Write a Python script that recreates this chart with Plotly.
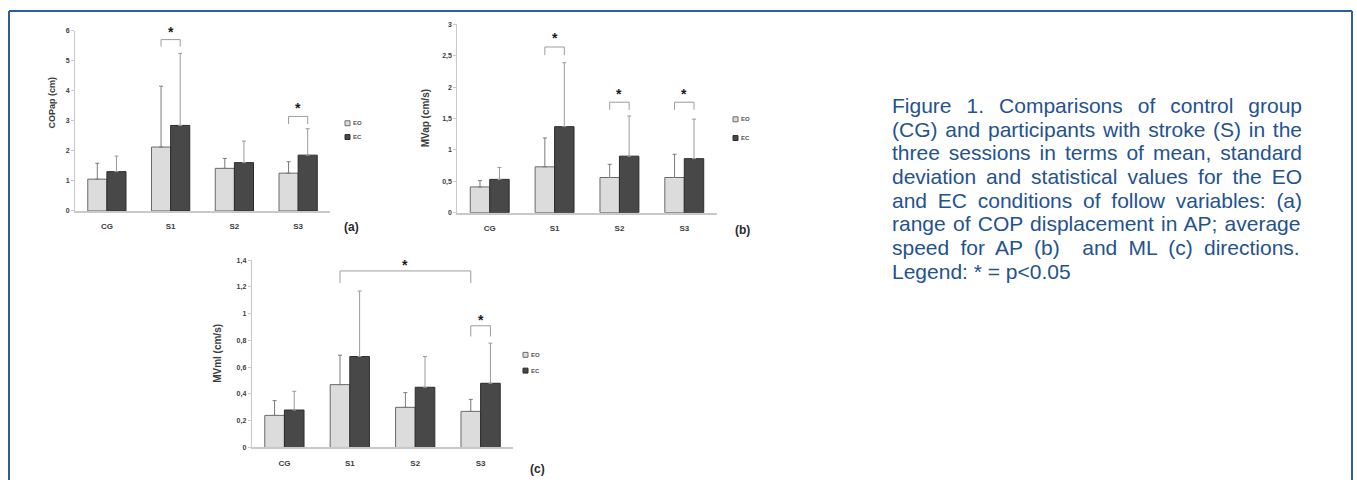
import plotly.graph_objects as go

W, H = 1357, 483

categories = ["CG", "S1", "S2", "S3"]

# (a) range of COP displacement, AP (cm)
cop_eo_mean = [1.06, 2.13, 1.42, 1.26]
cop_eo_sd = [0.53, 2.03, 0.33, 0.38]
cop_ec_mean = [1.31, 2.85, 1.61, 1.86]
cop_ec_sd = [0.52, 2.40, 0.72, 0.88]
cop_ticks = [0, 1, 2, 3, 4, 5, 6]
cop_ticktext = ["0", "1", "2", "3", "4", "5", "6"]

# (b) mean velocity, AP (cm/s)
mvap_eo_mean = [0.41, 0.73, 0.56, 0.56]
mvap_eo_sd = [0.10, 0.46, 0.21, 0.37]
mvap_ec_mean = [0.53, 1.37, 0.90, 0.86]
mvap_ec_sd = [0.19, 1.02, 0.64, 0.63]
mvap_ticks = [0, 0.5, 1, 1.5, 2, 2.5, 3]
mvap_ticktext = ["0", "0,5", "1", "1,5", "2", "2,5", "3"]

# (c) mean velocity, ML (cm/s)
mvml_eo_mean = [0.24, 0.47, 0.30, 0.27]
mvml_eo_sd = [0.11, 0.22, 0.11, 0.09]
mvml_ec_mean = [0.28, 0.68, 0.45, 0.48]
mvml_ec_sd = [0.14, 0.49, 0.23, 0.30]
mvml_ticks = [0, 0.2, 0.4, 0.6, 0.8, 1.0, 1.2, 1.4]
mvml_ticktext = ["0", "0,2", "0,4", "0,6", "0,8", "1", "1,2", "1,4"]

# significance brackets: (left category, left series, right category, right series,
#                         bracket level, leg end, star level)
cop_brackets = [("S1", "EO", "S1", "EC", 5.71, 5.48, 6.02),
                ("S3", "EO", "S3", "EC", 3.15, 2.90, 3.50)]
mvap_brackets = [("S1", "EO", "S1", "EC", 2.64, 2.51, 2.82),
                 ("S2", "EO", "S2", "EC", 1.76, 1.64, 1.92),
                 ("S3", "EO", "S3", "EC", 1.76, 1.64, 1.92)]
mvml_brackets = [("S1", "EO", "S3", "EO", 1.32, 1.23, 1.38),
                 ("S3", "EO", "S3", "EC", 0.91, 0.83, 0.97)]

caption_lines = [
    "Figure 1. Comparisons of control group",
    "(CG) and participants with stroke (S) in the",
    "three sessions in terms of mean, standard",
    "deviation and statistical values for the EO",
    "and EC conditions of follow variables: (a)",
    "range of COP displacement in AP; average",
    "speed for AP (b)  and ML (c) directions.",
    "Legend: * = p<0.05",
]

EO_FILL, EO_EDGE, EO_ERR = "#dcdcdc", "#6a6a6a", "#7a7a7a"
EC_FILL, EC_EDGE, EC_ERR = "#484848", "#2c2c2c", "#9a9a9a"
AXIS_GREY = "#c9c9c9"
TEXT_GREY = "#3c3c3c"
BLUE = "#24528f"
BARGAP = 0.4
HALF = (1 - BARGAP) / 4  # offset of each bar centre from its category centre


def px_x(px):
    return px / W


def px_y(py):
    return 1 - py / H


panels = [
    dict(xa="x", ya="y", eo=(cop_eo_mean, cop_eo_sd), ec=(cop_ec_mean, cop_ec_sd),
         ticks=cop_ticks, ticktext=cop_ticktext, rng=[0, 6], brackets=cop_brackets,
         xdom=(75, 330), ydom=(210, 27.3), title="COPap (cm)", title_xy=(52, 100),
         title_size=9, tag="(a)", tag_xy=(351, 226), legend_xy=(345, 121, 135)),
    dict(xa="x2", ya="y2", eo=(mvap_eo_mean, mvap_eo_sd), ec=(mvap_ec_mean, mvap_ec_sd),
         ticks=mvap_ticks, ticktext=mvap_ticktext, rng=[0, 3], brackets=mvap_brackets,
         xdom=(457.3, 716.7), ydom=(211.7, 20.7), title="MVap (cm/s)", title_xy=(425, 116),
         title_size=10, tag="(b)", tag_xy=(743, 229), legend_xy=(733, 117, 136)),
    dict(xa="x3", ya="y3", eo=(mvml_eo_mean, mvml_eo_sd), ec=(mvml_ec_mean, mvml_ec_sd),
         ticks=mvml_ticks, ticktext=mvml_ticktext, rng=[0, 1.4], brackets=mvml_brackets,
         xdom=(251.7, 513.3), ydom=(450, 260), title="MVml (cm/s)", title_xy=(218, 354),
         title_size=10, tag="(c)", tag_xy=(537, 472), legend_xy=(523, 356, 372)),
]

fig = go.Figure()
shapes = []
annotations = []
layout_axes = {}

for i, p in enumerate(panels):
    sfx = "" if i == 0 else str(i + 1)
    for series, (mean, sd), fill, edge, errc in (
            ("EO", p["eo"], EO_FILL, EO_EDGE, EO_ERR),
            ("EC", p["ec"], EC_FILL, EC_EDGE, EC_ERR)):
        fig.add_trace(go.Bar(
            x=categories, y=mean, name=series, showlegend=False,
            xaxis=p["xa"], yaxis=p["ya"], offsetgroup=series,
            marker=dict(color=fill, line=dict(color=edge, width=1)),
            error_y=dict(type="data", symmetric=False, array=sd,
                         arrayminus=[0] * len(sd), color=errc, thickness=1, width=2),
        ))

    layout_axes["xaxis" + sfx] = dict(
        domain=[px_x(p["xdom"][0]), px_x(p["xdom"][1])], anchor=p["ya"],
        type="category", showline=True, linecolor=AXIS_GREY, linewidth=1.5,
        ticks="", showgrid=False, zeroline=False, ticklabelstandoff=7,
        tickfont=dict(family="Liberation Sans", size=8, weight="bold", color=TEXT_GREY),
        fixedrange=True,
    )
    layout_axes["yaxis" + sfx] = dict(
        domain=[px_y(p["ydom"][0]), px_y(p["ydom"][1])], anchor=p["xa"],
        range=p["rng"], tickvals=p["ticks"], ticktext=p["ticktext"],
        showline=True, linecolor=AXIS_GREY, linewidth=1, ticks="outside",
        ticklen=3, tickcolor=AXIS_GREY, showgrid=False, zeroline=False,
        tickfont=dict(family="Liberation Sans", size=7, weight="bold", color=TEXT_GREY),
        fixedrange=True,
    )

    # significance brackets and stars
    top = p["rng"][1]
    for cl, sl, cr, sr, level, leg, star in p["brackets"]:
        xl = categories.index(cl) + (-HALF if sl == "EO" else HALF)
        xr = categories.index(cr) + (-HALF if sr == "EO" else HALF)
        for x0, y0, x1, y1 in ((xl, leg, xl, level), (xl, level, xr, level),
                               (xr, level, xr, leg)):
            shapes.append(dict(type="line", xref=p["xa"], yref=p["ya"],
                               x0=x0, y0=y0, x1=x1, y1=y1,
                               line=dict(color="#9c9c9c", width=1)))
        annotations.append(dict(x=(xl + xr) / 2, y=star / top, xref=p["xa"],
                                yref=p["ya"] + " domain",
                                text="<b>*</b>", showarrow=False, yanchor="middle",
                                yshift=-2, font=dict(size=14, color="#1a1a1a",
                                                     family="Liberation Sans")))

    # y-axis title
    tx, ty = p["title_xy"]
    annotations.append(dict(x=px_x(tx), y=px_y(ty), xref="paper", yref="paper",
                            text="<b>" + p["title"] + "</b>", textangle=-90,
                            showarrow=False, xanchor="center", yanchor="middle",
                            font=dict(size=p["title_size"], color=TEXT_GREY,
                                      family="Liberation Sans")))
    # panel tag
    gx, gy = p["tag_xy"]
    annotations.append(dict(x=px_x(gx), y=px_y(gy), xref="paper", yref="paper",
                            text="<b>" + p["tag"] + "</b>", showarrow=False,
                            xanchor="center", yanchor="middle",
                            font=dict(size=12, color="#2a2a2a", family="Liberation Sans")))
    # small legend
    lx, ly_eo, ly_ec = p["legend_xy"]
    for label, ly, fill, edge in (("EO", ly_eo, EO_FILL, EO_EDGE),
                                  ("EC", ly_ec, EC_FILL, EC_EDGE)):
        shapes.append(dict(type="rect", xref="paper", yref="paper",
                           x0=px_x(lx), x1=px_x(lx + 5), y0=px_y(ly + 2.5), y1=px_y(ly - 2.5),
                           fillcolor=fill, line=dict(color=edge, width=1)))
        annotations.append(dict(x=px_x(lx + 6), y=px_y(ly), xref="paper", yref="paper",
                                text="<b>" + label + "</b>", showarrow=False,
                                xanchor="left", yanchor="middle",
                                font=dict(size=6, color="#555555", family="Liberation Sans")))

# outer frame (open at the bottom)
for x0, y0, x1, y1 in ((9, H, 9, 7), (9, 7, 1352, 7), (1352, 7, 1352, H)):
    shapes.append(dict(type="line", xref="paper", yref="paper",
                       x0=px_x(x0), y0=px_y(y0), x1=px_x(x1), y1=px_y(y1),
                       line=dict(color="#2f5c9c", width=2)))

# justified caption
ARIAL = {' ': 278, '(': 333, ')': 333, '*': 389, ',': 278, '.': 278, ':': 278,
         ';': 278, '<': 584, '=': 584, '/': 278,
         'A': 667, 'B': 667, 'C': 722, 'D': 722, 'E': 667, 'F': 611, 'G': 778,
         'H': 722, 'I': 278, 'L': 556, 'M': 833, 'N': 722, 'O': 778, 'P': 667,
         'S': 667, 'T': 611,
         'a': 556, 'b': 556, 'c': 500, 'd': 556, 'e': 556, 'f': 278, 'g': 556,
         'h': 556, 'i': 222, 'j': 222, 'k': 500, 'l': 222, 'm': 833, 'n': 556,
         'o': 556, 'p': 556, 'q': 556, 'r': 333, 's': 500, 't': 278, 'u': 556,
         'v': 500, 'w': 722, 'x': 500, 'y': 500, 'z': 500}
CAP_FONT = "Liberation Sans"
CAP_SIZE = 21
CAP_LEFT, CAP_WIDTH = 892, 410
CAP_TOP, CAP_STEP = 103, 24


def natural_width(s):
    return sum(ARIAL.get(ch, 556) for ch in s) * CAP_SIZE / 1000


for k, line in enumerate(caption_lines):
    esc = line.replace("<", "&lt;").replace("  ", " &nbsp;")
    if k < len(caption_lines) - 1:
        gaps = line.count(" ")
        ws = (CAP_WIDTH - natural_width(line)) / gaps
        esc = '<span style="word-spacing:%.2fpx">%s</span>' % (ws, esc)
    annotations.append(dict(x=px_x(CAP_LEFT - 2), y=px_y(CAP_TOP + k * CAP_STEP),
                            xref="paper", yref="paper", text=esc, showarrow=False,
                            xanchor="left", yanchor="middle", align="left",
                            font=dict(size=CAP_SIZE, color=BLUE, family=CAP_FONT)))

fig.update_layout(
    width=W, height=H, margin=dict(l=0, r=0, t=0, b=0),
    paper_bgcolor="white", plot_bgcolor="white",
    barmode="group", bargap=BARGAP, bargroupgap=0,
    shapes=shapes, annotations=annotations, showlegend=False,
    **layout_axes,
)

fig.write_html("out.html", config={"displayModeBar": False})
